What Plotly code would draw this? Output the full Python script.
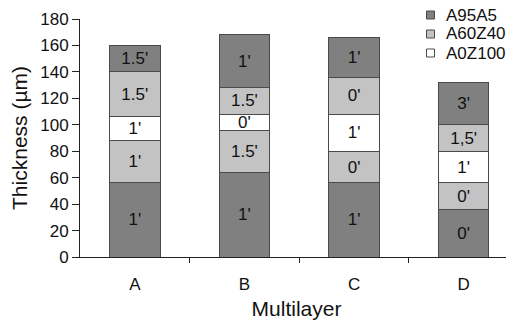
import plotly.graph_objects as go

categories = ["A", "B", "C", "D"]
# layer thicknesses (µm), bottom to top
layer1_A95A5 = [56, 64, 56, 36]
layer2_A60Z40 = [32, 32, 24, 20]
layer3_A0Z100 = [18, 12, 28, 24]
layer4_A60Z40 = [34, 20, 28, 20]
layer5_A95A5 = [20, 40, 30, 32]

labels1 = ["1'", "1'", "1'", "0'"]
labels2 = ["1'", "1.5'", "0'", "0'"]
labels3 = ["1'", "0'", "1'", "1'"]
labels4 = ["1.5'", "1.5'", "0'", "1,5'"]
labels5 = ["1.5'", "1'", "1'", "3'"]

y_ticks = [0, 20, 40, 60, 80, 100, 120, 140, 160, 180]
legend_names = ["A95A5", "A60Z40", "A0Z100"]

DARK = "#808080"
LIGHT = "#c3c3c3"
WHITE = "#ffffff"
EDGE = "#4a4a4a"
FONT = "Liberation Sans, Arial, sans-serif"
legend_colors = [DARK, LIGHT, WHITE]

# figure geometry (page body has an 8px margin)
W, H = 506, 316
ML, MR, MT, MB = 72, 1, 0, 67
PW, PH = W - ML - MR, H - MT - MB

xpos = list(range(len(categories)))

layers = [
    (layer1_A95A5, labels1, DARK, "A95A5"),
    (layer2_A60Z40, labels2, LIGHT, "A60Z40"),
    (layer3_A0Z100, labels3, WHITE, "A0Z100"),
    (layer4_A60Z40, labels4, LIGHT, "A60Z40"),
    (layer5_A95A5, labels5, DARK, "A95A5"),
]

fig = go.Figure()
for vals, labs, col, name in layers:
    fig.add_trace(go.Bar(
        x=xpos, y=vals, name=name, showlegend=False,
        text=labs, textposition="inside", insidetextanchor="middle",
        textangle=0, constraintext="none",
        textfont=dict(family=FONT, size=17, color="#111111"),
        marker=dict(color=col, line=dict(color=EDGE, width=1)),
        width=0.46, hoverinfo="skip",
    ))

# invisible trace to activate xaxis2 (ticks between categories)
fig.add_trace(go.Scatter(x=[0.5], y=[0], xaxis="x2", mode="markers",
                         marker=dict(opacity=0), showlegend=False, hoverinfo="skip"))

# manual legend (small squares + labels), positioned in pixels
def px(xp):
    return (xp - ML) / PW

def py(yp):
    return (H - MB - yp) / PH

for i, (name, col) in enumerate(zip(legend_names, legend_colors)):
    cy = 7 + i * 19
    cx = 422.5
    fig.add_shape(type="rect", xref="paper", yref="paper",
                  x0=px(cx - 4), x1=px(cx + 4), y0=py(cy + 4), y1=py(cy - 4),
                  fillcolor=col, line=dict(color=EDGE, width=1))
    fig.add_annotation(xref="paper", yref="paper", x=px(436), y=py(cy),
                       xanchor="left", yanchor="middle", showarrow=False,
                       text=name, font=dict(family=FONT, size=17, color="#111111"))

fig.update_layout(
    width=W, height=H,
    barmode="stack",
    showlegend=False,
    margin=dict(l=ML, r=MR, t=MT, b=MB, autoexpand=False),
    plot_bgcolor="white", paper_bgcolor="white",
    font=dict(family=FONT, size=17, color="#111111"),
    xaxis=dict(range=[-0.5, 3.45], tickvals=xpos, ticktext=categories,
               ticks="", showgrid=False, zeroline=False, ticklabelstandoff=12,
               showline=True, linecolor="#222", linewidth=1,
               title=dict(text="Multilayer", font=dict(size=21), standoff=7),
               tickfont=dict(size=17)),
    xaxis2=dict(range=[-0.5, 3.45], overlaying="x", side="bottom",
                tickvals=[0.5, 1.5, 2.5], ticktext=["", "", ""],
                ticks="outside", ticklen=5, tickcolor="#222",
                showgrid=False, zeroline=False, showline=False),
    yaxis=dict(range=[0, 180], domain=[0, 238 / PH], tickvals=y_ticks,
               ticks="outside", ticklen=7,
               tickcolor="#222", showgrid=False, zeroline=False,
               showline=True, linecolor="#222", linewidth=1,
               title=dict(text="Thickness (µm)", font=dict(size=21), standoff=7),
               tickfont=dict(size=17)),
)

fig.write_html("out.html")
